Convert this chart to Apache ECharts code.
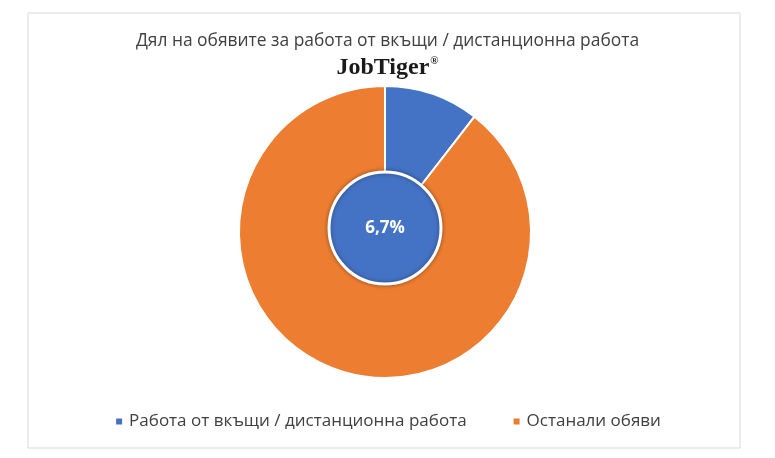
<!DOCTYPE html>
<html>
<head>
<meta charset="utf-8">
<script src="https://cdn.jsdelivr.net/npm/echarts@6/dist/echarts.min.js"></script>
<style>
  html, body { margin: 0; padding: 0; background: #fff; }
  #main { width: 775px; height: 458px; }
</style>
</head>
<body>
<div id="main"></div>
<script>
var categories = ['Работа от вкъщи / дистанционна работа', 'Останали обяви'];
var shares = [10.5, 89.5];
var centerLabel = '6,7%';
var colors = ['#4472C4', '#ED7D31'];

var myChart = echarts.init(document.getElementById('main'));

var option = {
    animation: false,
    title: {
        text: 'Дял на обявите за работа от вкъщи / дистанционна работа',
        left: 'center',
        top: 28,
        textStyle: {
            fontFamily: 'Open Sans',
            fontWeight: 'normal',
            fontSize: 17.4,
            color: '#404040'
        }
    },
    legend: {
        bottom: 23,
        left: 'center',
        icon: 'rect',
        itemWidth: 8,
        itemHeight: 8,
        itemGap: 45,
        data: categories,
        textStyle: {
            fontFamily: 'Open Sans',
            fontSize: 17,
            color: '#404040',
            padding: [0, 0, 0, 1]
        }
    },
    graphic: [
        {
            type: 'rect',
            shape: { x: 28, y: 13, width: 712, height: 435 },
            style: { fill: 'none', stroke: '#d9d9d9', lineWidth: 1 },
            silent: true
        },
        {
            type: 'text',
            left: 'center',
            top: 56,
            style: {
                text: '{a|JobTiger}{b|®}',
                rich: {
                    a: {
                        fontFamily: 'Liberation Serif',
                        fontWeight: 'bold',
                        fontSize: 24,
                        fill: '#1a1a1a',
                        verticalAlign: 'top'
                    },
                    b: {
                        fontFamily: 'Liberation Serif',
                        fontWeight: 'bold',
                        fontSize: 11,
                        fill: '#1a1a1a',
                        verticalAlign: 'top',
                        padding: [0, 0, 8, 1]
                    }
                }
            }
        }
    ],
    series: [
        {
            name: 'Дял',
            type: 'pie',
            center: [385, 232],
            radius: [0, 146],
            startAngle: 90,
            clockwise: true,
            label: { show: false },
            labelLine: { show: false },
            itemStyle: { borderColor: '#fff', borderWidth: 2 },
            data: categories.map(function (c, i) {
                return { name: c, value: shares[i], itemStyle: { color: colors[i] } };
            })
        },
        {
            name: 'Център',
            type: 'pie',
            center: [385, 228],
            radius: [0, 56],
            silent: true,
            label: {
                show: true,
                position: 'center',
                formatter: centerLabel,
                fontFamily: 'Open Sans',
                fontWeight: 'bold',
                fontSize: 17,
                color: '#fff'
            },
            labelLine: { show: false },
            itemStyle: {
                color: colors[0],
                borderColor: '#fff',
                borderWidth: 3,
                shadowBlur: 4,
                shadowColor: 'rgba(0,0,0,0.35)'
            },
            data: [{ name: categories[0], value: shares[0] }]
        }
    ]
};

myChart.setOption(option);
</script>
</body>
</html>
